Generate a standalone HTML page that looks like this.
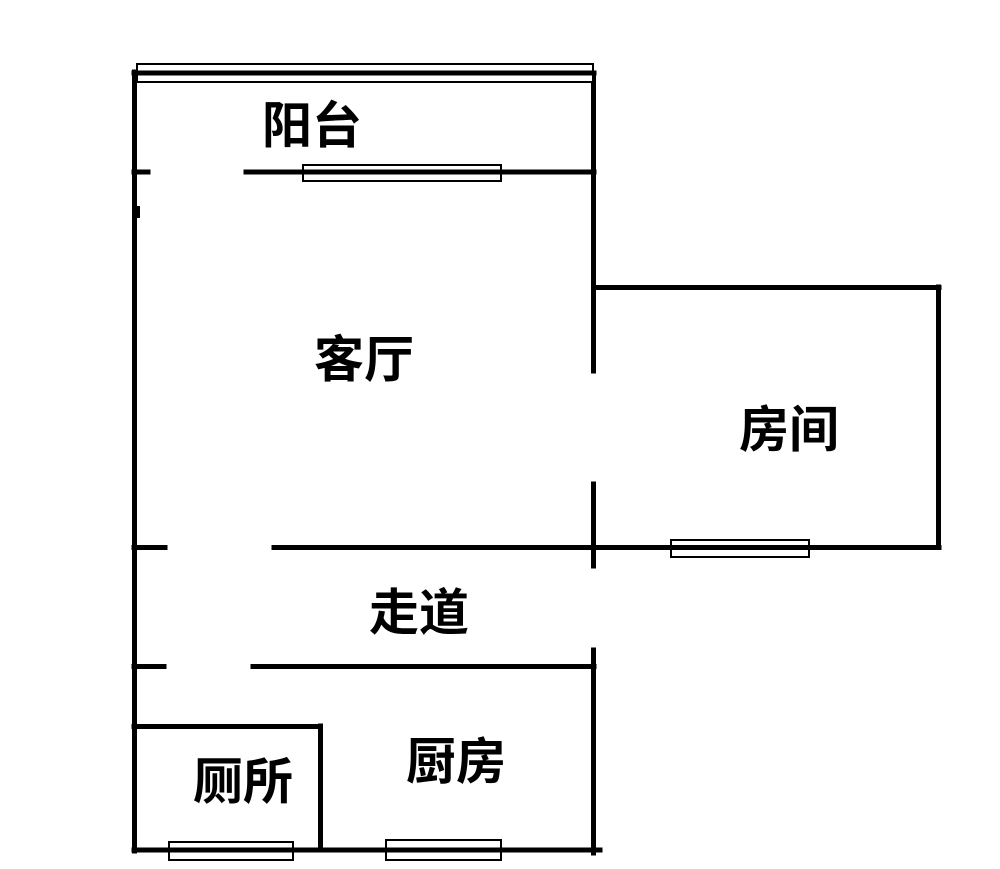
<!DOCTYPE html>
<html><head><meta charset="utf-8"><style>
html,body{margin:0;padding:0;background:#fff;}
svg{display:block;}
text{font-family:"Liberation Sans","Noto Sans CJK SC",sans-serif;font-weight:bold;font-size:50px;fill:#000;}
</style></head><body>
<svg width="1000" height="869" viewBox="0 0 1000 869" xmlns="http://www.w3.org/2000/svg">
<g stroke="#000" stroke-width="5" fill="none" stroke-linecap="square">
<line x1="134.5" y1="72" x2="134.5" y2="851"/>
<line x1="134" y1="73" x2="594" y2="73"/>
<line x1="593.5" y1="73" x2="593.5" y2="371"/>
<line x1="593.5" y1="484" x2="593.5" y2="566"/>
<line x1="593.5" y1="650" x2="593.5" y2="853"/>
<line x1="134" y1="172" x2="148" y2="172"/>
<line x1="246" y1="172" x2="594" y2="172"/>
<line x1="594" y1="287.5" x2="939" y2="287.5"/>
<line x1="938.5" y1="287" x2="938.5" y2="547"/>
<line x1="274" y1="547.5" x2="939" y2="547.5"/>
<line x1="134" y1="547.5" x2="165" y2="547.5"/>
<line x1="134" y1="666.5" x2="164" y2="666.5"/>
<line x1="253" y1="666.5" x2="594" y2="666.5"/>
<line x1="134" y1="726.5" x2="320" y2="726.5"/>
<line x1="320.5" y1="726" x2="320.5" y2="850"/>
<line x1="134" y1="850" x2="600" y2="850"/>
</g>
<rect x="136" y="206" width="4" height="12" fill="#000"/>
<g fill="#fff" stroke="#000" stroke-width="2">
<rect x="137" y="64" width="456" height="18"/>
<rect x="303" y="165" width="198" height="16"/>
<rect x="671" y="540" width="138" height="17"/>
<rect x="169" y="842" width="124" height="18"/>
<rect x="386" y="840" width="115" height="20"/>
</g>
<g stroke="#000" stroke-width="5">
<line x1="134" y1="73" x2="594" y2="73"/>
<line x1="303" y1="172" x2="501" y2="172"/>
<line x1="671" y1="547.5" x2="809" y2="547.5"/>
<line x1="169" y1="850" x2="293" y2="850"/>
<line x1="386" y1="850" x2="501" y2="850"/>
</g>
<text x="262" y="143">阳台</text>
<text x="314" y="377">客厅</text>
<text x="739" y="447">房间</text>
<text x="369" y="630">走道</text>
<text x="193" y="799">厕所</text>
<text x="406" y="779">厨房</text>
</svg>
</body></html>
